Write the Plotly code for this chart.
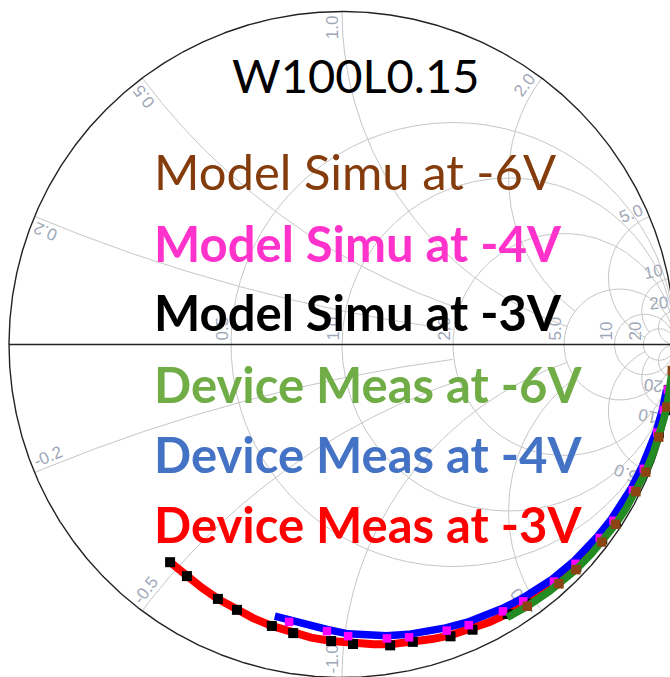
import numpy as np
import plotly.graph_objects as go

# ---- grid definition (normalised impedance) ----
R_CIRCLES = [0.5, 1.0, 2.0, 5.0, 10.0, 20.0]
R_LABELS = ["0.5", "1.0", "2.0", "5.0", "10", "20"]
X_ARCS = [0.2, 0.5, 1.0, 2.0, 5.0, 10.0, 20.0]
X_LABELS = ["0.2", "0.5", "1.0", "2.0", "5.0", "10", "20"]
# resistance at which each reactance arc stops (ladder-style grid)
X_ARC_END = [2.0, 2.0, 5.0, 5.0, 20.0, 20.0, np.inf]

# ---- S11 data: phase (deg) and linear magnitude ----
# Device measurements (solid traces)
meas_m3_phase = [-128.3, -123.8, -120.0, -116.0, -111.6, -108.0, -104.0, -99.6, -96.0, -92.1,
                 -87.9, -84.0, -80.9, -76.6, -73.0, -69.6, -65.4, -62.0, -58.4, -54.5,
                 -50.0, -48.0, -43.5, -40.0, -36.8, -32.8, -30.0, -26.5, -22.3, -19.0,
                 -15.6, -11.5, -8.0]
meas_m3_mag = [0.833, 0.837, 0.843, 0.850, 0.857, 0.864, 0.871, 0.879, 0.885, 0.891,
               0.898, 0.905, 0.912, 0.918, 0.925, 0.932, 0.939, 0.944, 0.949, 0.955,
               0.961, 0.963, 0.968, 0.971, 0.974, 0.977, 0.979, 0.981, 0.983, 0.985,
               0.987, 0.988, 0.989]

meas_m4_phase = [-103.9, -100.8, -97.0, -93.0, -88.8, -84.0, -81.3, -77.1, -73.5, -69.9,
                 -65.7, -62.0, -58.9, -54.8, -51.5, -48.2, -43.2, -40.0, -36.9, -33.0,
                 -30.0, -26.6, -22.4, -19.0, -15.6, -11.5, -8.0]
meas_m4_mag = [0.840, 0.843, 0.850, 0.857, 0.869, 0.879, 0.885, 0.893, 0.900, 0.906,
               0.915, 0.921, 0.927, 0.935, 0.941, 0.946, 0.953, 0.957, 0.960, 0.964,
               0.967, 0.970, 0.973, 0.976, 0.979, 0.982, 0.984]

meas_m6_phase = [-58.8, -54.7, -50.0, -47.8, -43.9, -40.0, -37.25, -33.3, -30.0, -26.6,
                 -22.8, -19.0, -16.3, -13.0, -10.9, -7.0, -4.5]
meas_m6_mag = [0.958, 0.963, 0.968, 0.970, 0.975, 0.978, 0.980, 0.983, 0.985, 0.987,
               0.989, 0.990, 0.991, 0.992, 0.993, 0.994, 0.995]

# Model simulations (square markers)
sim_m3_phase = [-128.3, -123.8, -116.0, -111.6, -104.0, -99.6, -92.1, -87.9, -80.9, -76.6,
                -69.6, -65.4, -58.4, -54.5, -48.0, -43.5, -36.8, -32.8, -26.5, -22.3,
                -15.6, -11.5, -8.0]
sim_m3_mag = [0.833, 0.837, 0.850, 0.857, 0.871, 0.879, 0.891, 0.900, 0.915, 0.918,
              0.935, 0.942, 0.950, 0.956, 0.964, 0.970, 0.976, 0.979, 0.983, 0.985,
              0.988, 0.990, 0.991]

sim_m4_phase = [-100.8, -93.0, -88.8, -81.3, -77.1, -69.9, -65.7, -58.9, -54.8, -48.2,
                -43.2, -36.9, -33.0, -26.6, -22.4, -15.6, -11.5, -7.9]
sim_m4_mag = [0.848, 0.862, 0.876, 0.893, 0.902, 0.915, 0.925, 0.936, 0.944, 0.955,
              0.962, 0.968, 0.972, 0.977, 0.980, 0.983, 0.986, 0.988]

sim_m6_phase = [-54.7, -47.8, -43.9, -37.25, -33.3, -26.6, -22.8, -16.3, -10.9, -4.5]
sim_m6_mag = [0.963, 0.970, 0.975, 0.980, 0.983, 0.987, 0.989, 0.991, 0.993, 0.995]

TITLE = "W100L0.15"
LEGEND = [
    ("Model Simu at -6V", "#843C0C", False),
    ("Model Simu at -4V", "#FF33CC", True),
    ("Model Simu at -3V", "#000000", True),
    ("Device Meas at -6V", "#70AD47", True),
    ("Device Meas at -4V", "#4472C4", True),
    ("Device Meas at -3V", "#FF0000", True),
]

# ---- page geometry (pixels) ----
W, H = 670, 677
CX, CY, RAD = 342.0, 344.5, 333.0
GRID = "#c6c6c6"
LABEL = "#9ea7b8"
LABEL_SIZE = 17
LABEL_FONT = dict(family="Liberation Sans, Arial", size=LABEL_SIZE, color=LABEL)


def to_xy(phase, mag):
    g = np.asarray(mag) * np.exp(1j * np.deg2rad(np.asarray(phase)))
    return g.real, g.imag


def grid_circle(cx, cy, r, max_res=np.inf, n=4000):
    """Points of a circle kept inside the unit disc and below a resistance limit."""
    t = np.linspace(0, 2 * np.pi, n)
    g = (cx + r * np.cos(t)) + 1j * (cy + r * np.sin(t))
    with np.errstate(divide="ignore", invalid="ignore"):
        z = (1 + g) / (1 - g)
    keep = (np.abs(g) <= 1.0 + 1e-9) & (z.real <= max_res * (1 + 1e-6))
    return np.where(keep, g.real, np.nan), np.where(keep, g.imag, np.nan)


def text_len(s):
    widths = {".": 0.278, "-": 0.333}
    return sum(widths.get(ch, 0.556) for ch in s) * LABEL_SIZE


fig = go.Figure()

# constant-resistance circles
for r in R_CIRCLES:
    gx, gy = grid_circle(r / (1 + r), 0.0, 1 / (1 + r))
    fig.add_trace(go.Scatter(x=gx, y=gy, mode="lines", line=dict(color=GRID, width=1),
                             hoverinfo="skip"))

# constant-reactance arcs
for xv, rend in zip(X_ARCS, X_ARC_END):
    for s in (1, -1):
        gx, gy = grid_circle(1.0, s / xv, 1.0 / xv, max_res=rend)
        fig.add_trace(go.Scatter(x=gx, y=gy, mode="lines", line=dict(color=GRID, width=1),
                                 hoverinfo="skip"))

# outer boundary and real axis
t = np.linspace(0, 2 * np.pi, 1500)
fig.add_trace(go.Scatter(x=np.cos(t), y=np.sin(t), mode="lines",
                         line=dict(color="#222222", width=1.4), hoverinfo="skip"))
fig.add_trace(go.Scatter(x=[-1, 1], y=[0, 0], mode="lines",
                         line=dict(color="#222222", width=1.4), hoverinfo="skip"))

# data traces
x, y = to_xy(meas_m3_phase, meas_m3_mag)
fig.add_trace(go.Scatter(x=x, y=y, mode="lines", line=dict(color="#FF0000", width=8)))
x, y = to_xy(sim_m3_phase, sim_m3_mag)
fig.add_trace(go.Scatter(x=x, y=y, mode="markers",
                         marker=dict(symbol="square", size=10, color="#000000")))
x, y = to_xy(meas_m4_phase, meas_m4_mag)
fig.add_trace(go.Scatter(x=x, y=y, mode="lines", line=dict(color="#0000FF", width=7.5)))
x, y = to_xy(sim_m4_phase, sim_m4_mag)
fig.add_trace(go.Scatter(x=x, y=y, mode="markers",
                         marker=dict(symbol="square", size=8.5, color="#FF00FF")))
x, y = to_xy(meas_m6_phase, meas_m6_mag)
fig.add_trace(go.Scatter(x=x, y=y, mode="lines", line=dict(color="#228B22", width=7.5)))
x, y = to_xy(sim_m6_phase, sim_m6_mag)
fig.add_trace(go.Scatter(x=x, y=y, mode="markers",
                         marker=dict(symbol="square", size=9.5, color="#8B4513")))

shapes = []
px = 1.0 / RAD  # one pixel in reflection-coefficient units


def label_shape(gx, gy, text, angle):
    e = 0.001
    return dict(type="rect", xref="x", yref="y", x0=gx - e, x1=gx + e, y0=gy - e, y1=gy + e,
                line=dict(width=0), fillcolor="rgba(0,0,0,0)", layer="below",
                label=dict(text=text, textangle=angle, font=LABEL_FONT,
                           textposition="middle center", padding=0))


# reactance values along the rim, written radially just inside the boundary
for xv, lab in zip(X_ARCS, X_LABELS):
    for s in (1, -1):
        g = (1j * s * xv - 1) / (1j * s * xv + 1)
        th = np.angle(g)
        alpha = th if np.sin(th) > 0 else th + np.pi
        up = alpha + np.pi / 2
        text = lab if s > 0 else "-" + lab
        d_r = (text_len(text) / 2 + 4) * px
        d_t = 11.5 * px
        gx = (1 - d_r) * np.cos(th) + d_t * np.cos(up)
        gy = (1 - d_r) * np.sin(th) + d_t * np.sin(up)
        ang = -np.rad2deg(alpha)
        ang = (ang + 180) % 360 - 180
        shapes.append(label_shape(gx, gy, text, ang))

# resistance values along the real axis
for r, lab in zip(R_CIRCLES, R_LABELS):
    xc = (r - 1) / (r + 1)
    shapes.append(label_shape(xc - 10 * px, (4 + text_len(lab) / 2) * px, lab, -90))

annotations = [dict(text=TITLE, xref="paper", yref="paper", x=230 / W, y=1 - 75 / H,
                    xanchor="left", yanchor="middle", showarrow=False,
                    font=dict(family="Lato", size=47, color="#000000"))]
centers = [171, 243, 312, 384, 454, 524]
for (txt, col, bold), cy in zip(LEGEND, centers):
    annotations.append(dict(text=f"<b>{txt}</b>" if bold else txt, xref="paper", yref="paper",
                            x=152 / W, y=1 - cy / H, xanchor="left", yanchor="middle",
                            showarrow=False, font=dict(family="Lato", size=49, color=col)))

fig.update_layout(
    width=W, height=H, margin=dict(l=0, r=0, t=0, b=0),
    paper_bgcolor="white", plot_bgcolor="white", showlegend=False,
    xaxis=dict(visible=False, range=[-CX / RAD, (W - CX) / RAD]),
    yaxis=dict(visible=False, range=[(CY - H) / RAD, CY / RAD]),
    shapes=shapes, annotations=annotations,
)

fig.write_html("out.html")
